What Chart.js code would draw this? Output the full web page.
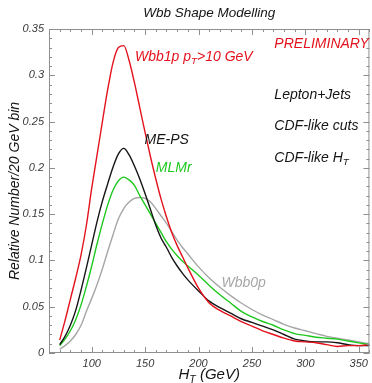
<!DOCTYPE html>
<html>
<head>
<meta charset="utf-8">
<script src="https://cdn.jsdelivr.net/npm/chart.js@4"></script>
<style>
  html, body { margin: 0; padding: 0; background: #fff; }
  #chart { display: block; }
</style>
</head>
<body>
<canvas id="chart" width="372" height="383"></canvas>
<script>
"use strict";

// H_T bin centres (GeV)
const htBins = [70, 75, 80, 85, 90, 95, 100, 105, 110, 115, 120, 125, 130,
  135, 140, 145, 150, 155, 160, 165, 170, 175, 180, 185, 190,
  200, 210, 220, 230, 240, 250, 260, 270, 280, 290, 300, 310, 320, 330, 340, 350, 360];

const wbb1p = [0.014, 0.035, 0.058, 0.081, 0.106, 0.138, 0.178, 0.214, 0.250, 0.285, 0.314, 0.330, 0.332,
  0.316, 0.292, 0.265, 0.238, 0.212, 0.188, 0.166, 0.147, 0.130, 0.116, 0.104, 0.092,
  0.070, 0.054, 0.046, 0.040, 0.034, 0.029, 0.024, 0.020, 0.016, 0.013, 0.012, 0.011, 0.009, 0.007, 0.008, 0.008, 0.009];

const mePs = [0.009, 0.018, 0.030, 0.046, 0.068, 0.092, 0.117, 0.142, 0.164, 0.183, 0.201, 0.215, 0.221,
  0.214, 0.202, 0.188, 0.172, 0.155, 0.138, 0.124, 0.114, 0.103, 0.094, 0.086, 0.079,
  0.067, 0.056, 0.049, 0.043, 0.037, 0.033, 0.029, 0.025, 0.020, 0.015, 0.013, 0.012, 0.012, 0.011, 0.009, 0.008, 0.008];

const mlmr = [0.008, 0.015, 0.024, 0.036, 0.052, 0.072, 0.094, 0.118, 0.140, 0.160, 0.176, 0.186, 0.190,
  0.187, 0.181, 0.170, 0.160, 0.150, 0.140, 0.130, 0.120, 0.112, 0.105, 0.099, 0.094,
  0.084, 0.073, 0.063, 0.054, 0.045, 0.039, 0.034, 0.030, 0.025, 0.021, 0.019, 0.017, 0.016, 0.015, 0.013, 0.011, 0.009];

const wbb0p = [0.004, 0.008, 0.013, 0.020, 0.030, 0.045, 0.059, 0.074, 0.091, 0.110, 0.128, 0.145, 0.156,
  0.163, 0.167, 0.168, 0.167, 0.163, 0.156, 0.148, 0.140, 0.131, 0.122, 0.114, 0.107,
  0.093, 0.081, 0.071, 0.062, 0.054, 0.047, 0.041, 0.036, 0.031, 0.027, 0.024, 0.021, 0.018, 0.016, 0.014, 0.012, 0.010];

const xTicks = [100, 150, 200, 250, 300, 350];
const yTicks = [0, 0.05, 0.1, 0.15, 0.2, 0.25, 0.3, 0.35];

const FONT = '"Liberation Sans", Arial, Helvetica, sans-serif';
const RED = "#e3121c";
const GREEN = "#1ec81e";
const BLACK = "#151515";
const GREY = "#a6a6a6";

// text labels, anchored in data coordinates (left edge, vertical middle)
const notes = [
  { x: 271, y: 0.334, color: RED, parts: [{ t: "PRELIMINARY" }] },
  { x: 140.5, y: 0.320, color: RED, parts: [{ t: "Wbb1p p" }, { t: "T", sub: true }, { t: ">10 GeV" }] },
  { x: 271, y: 0.279, color: BLACK, parts: [{ t: "Lepton+Jets" }] },
  { x: 271, y: 0.245, color: BLACK, parts: [{ t: "CDF-like cuts" }] },
  { x: 271, y: 0.211, color: BLACK, parts: [{ t: "CDF-like H" }, { t: "T", sub: true }] },
  { x: 149.5, y: 0.2305, color: BLACK, parts: [{ t: "ME-PS" }] },
  { x: 160, y: 0.200, color: GREEN, parts: [{ t: "MLMr" }] },
  { x: 221.5, y: 0.0758, color: GREY, parts: [{ t: "Wbb0p" }] },
];

function richWidth(ctx, parts, size) {
  let w = 0;
  for (const p of parts) {
    ctx.font = `italic ${p.sub ? size * 0.7 : size}px ${FONT}`;
    w += ctx.measureText(p.t).width;
  }
  return w;
}

function drawRich(ctx, parts, x, y, size, color) {
  let cx = x;
  ctx.fillStyle = color;
  ctx.textBaseline = "middle";
  ctx.textAlign = "left";
  for (const p of parts) {
    const s = p.sub ? size * 0.7 : size;
    ctx.font = `italic ${s}px ${FONT}`;
    ctx.fillText(p.t, cx, p.sub ? y + size * 0.32 : y);
    cx += ctx.measureText(p.t).width;
  }
}

const frameTicks = {
  id: "frameTicks",
  afterDatasetsDraw(chart) {
    const { ctx, chartArea: a, scales: { x, y } } = chart;
    ctx.save();
    ctx.strokeStyle = "#8f8f8f";
    ctx.lineWidth = 1;
    ctx.strokeRect(a.left + 0.5, a.top + 0.5, a.right - a.left - 1, a.bottom - a.top - 1);
    ctx.beginPath();
    for (let v = 60; v <= 360; v += 10) {
      const px = Math.round(x.getPixelForValue(v)) + 0.5;
      const len = v % 50 === 0 ? 6 : 3;
      ctx.moveTo(px, a.bottom); ctx.lineTo(px, a.bottom - len);
      ctx.moveTo(px, a.top); ctx.lineTo(px, a.top + len);
    }
    for (let i = 0; i <= 35; i++) {
      const py = Math.round(y.getPixelForValue(i / 100)) + 0.5;
      const len = i % 5 === 0 ? 6 : 3;
      ctx.moveTo(a.left, py); ctx.lineTo(a.left + len, py);
      ctx.moveTo(a.right, py); ctx.lineTo(a.right - len, py);
    }
    ctx.stroke();
    ctx.restore();
  },
};

const textLayer = {
  id: "textLayer",
  afterDraw(chart) {
    const { ctx, chartArea: a, scales: { x, y } } = chart;
    ctx.save();

    ctx.fillStyle = BLACK;
    ctx.textAlign = "center";
    ctx.textBaseline = "middle";
    ctx.font = `italic 13.5px ${FONT}`;
    ctx.fillText("Wbb Shape Modelling", (a.left + a.right) / 2, 13);

    // y axis title
    ctx.save();
    ctx.translate(15, (a.top + a.bottom) / 2);
    ctx.rotate(-Math.PI / 2);
    ctx.font = `italic 14px ${FONT}`;
    ctx.fillText("Relative Number/20 GeV bin", 0, 0);
    ctx.restore();

    // x axis title
    const xt = [{ t: "H" }, { t: "T", sub: true }, { t: " (GeV)" }];
    const w = richWidth(ctx, xt, 15);
    drawRich(ctx, xt, (a.left + a.right) / 2 - w / 2, 375, 15, BLACK);

    for (const n of notes) {
      drawRich(ctx, n.parts, x.getPixelForValue(n.x), y.getPixelForValue(n.y), 14, n.color);
    }
    ctx.restore();
  },
};

const makeSet = (label, data, color) => ({
  label,
  data: data.map((v, i) => ({ x: htBins[i], y: v })),
  borderColor: color,
  borderWidth: 1.4,
  pointRadius: 0,
  fill: false,
  cubicInterpolationMode: "monotone",
});

new Chart(document.getElementById("chart"), {
  type: "line",
  data: {
    datasets: [
      makeSet("Wbb1p pT>10 GeV", wbb1p, RED),
      makeSet("ME-PS", mePs, BLACK),
      makeSet("MLMr", mlmr, GREEN),
      makeSet("Wbb0p", wbb0p, GREY),
    ],
  },
  options: {
    responsive: false,
    animation: false,
    layout: { padding: { left: 0, top: 29, right: 2, bottom: 0 } },
    plugins: {
      legend: { display: false },
      tooltip: { enabled: false },
    },
    scales: {
      x: {
        type: "linear",
        min: 60,
        max: 360,
        afterBuildTicks: (s) => { s.ticks = xTicks.map((v) => ({ value: v })); },
        afterFit: (s) => { s.height = 30; },
        grid: { display: false, drawTicks: false },
        border: { display: false },
        ticks: {
          padding: 4,
          maxRotation: 0,
          color: "#3a3a3a",
          font: { family: FONT, size: 11, style: "italic" },
        },
      },
      y: {
        min: 0,
        max: 0.35,
        afterBuildTicks: (s) => { s.ticks = yTicks.map((v) => ({ value: v })); },
        afterFit: (s) => { s.width = 49; },
        grid: { display: false, drawTicks: false },
        border: { display: false },
        ticks: {
          padding: 5,
          color: "#3a3a3a",
          font: { family: FONT, size: 11, style: "italic" },
          callback: (v) => (v === 0 ? "0" : String(+v.toFixed(2))),
        },
      },
    },
  },
  plugins: [frameTicks, textLayer],
});
</script>
</body>
</html>
